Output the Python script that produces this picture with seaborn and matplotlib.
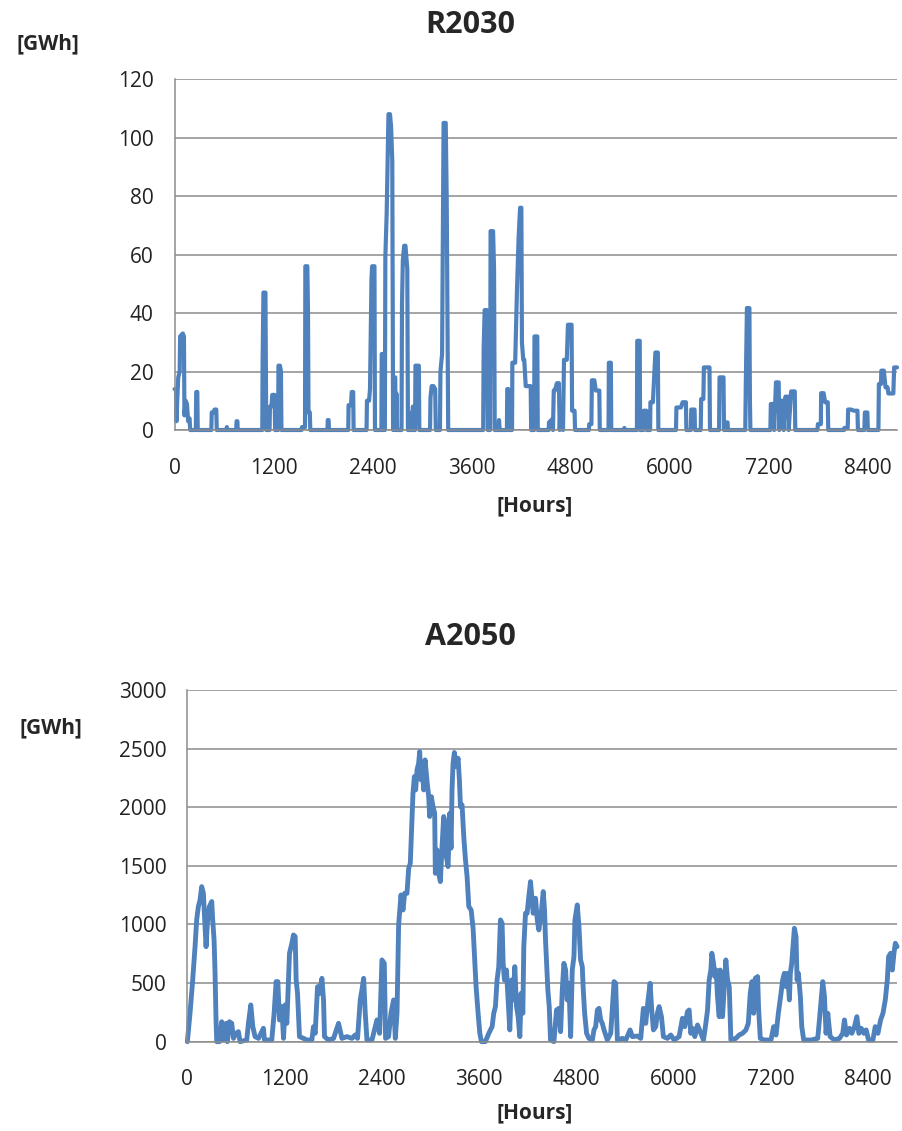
import numpy as np
import pandas as pd
import matplotlib
matplotlib.use("Agg")
import matplotlib.pyplot as plt
import seaborn as sns

# --- data (hour of year, GWh) ---
r2030_hours = [0, 18, 24, 32, 45, 62, 68, 100, 114, 120, 135, 150, 165, 182, 190,
               258, 263, 276, 281,
               446, 451, 470, 486, 506, 512,
               630, 634, 640,
               748, 752, 762, 766,
               1064, 1068, 1078, 1102, 1112,
               1152, 1157, 1175, 1185, 1212, 1220,
               1256, 1260, 1278, 1290, 1296,
               1540, 1545, 1582, 1586, 1610, 1618, 1624, 1640, 1646,
               1854, 1858, 1868, 1872,
               2106, 2110, 2140, 2148, 2166, 2171,
               2328, 2333, 2358, 2370, 2388, 2396, 2424, 2430,
               2508, 2512, 2526, 2531,
               2550, 2556, 2572, 2594, 2612, 2625, 2640, 2650,
               2660, 2676, 2682, 2690, 2698,
               2752, 2758, 2768, 2784, 2800, 2822, 2830,
               2842, 2848, 2856, 2884, 2890, 2897,
               2916, 2921, 2962, 2968,
               3098, 3103, 3118, 3140, 3160, 3168,
               3218, 3224, 3244, 3262, 3288, 3300, 3318,
               3742, 3748, 3760, 3786, 3798,
               3826, 3832, 3862, 3874, 3882,
               3930, 3934, 3942,
               4030, 4034, 4046, 4052,
               4092, 4096, 4130, 4152, 4172, 4190, 4205, 4212, 4228, 4240, 4258, 4318, 4324,
               4360, 4364, 4398, 4404,
               4536, 4540, 4582, 4588, 4598, 4612, 4636, 4660, 4670, 4680, 4700, 4710,
               4722, 4756, 4770, 4814, 4820, 4850, 4856,
               5024, 5028, 5054, 5060, 5090, 5108, 5150, 5156,
               5262, 5266, 5290, 5295,
               5450, 5454, 5460,
               5606, 5610, 5640, 5645,
               5686, 5690, 5720, 5725,
               5766, 5770, 5800, 5830, 5860, 5866,
               6080, 6085, 6140, 6160, 6200, 6206,
               6260, 6265, 6305, 6310,
               6380, 6385, 6412, 6418, 6486, 6492,
               6602, 6608, 6656, 6662, 6680, 6684, 6705, 6710,
               6920, 6926, 6940, 6970, 6976, 6982,
               7224, 7230, 7260, 7270, 7292, 7325, 7332, 7346, 7380, 7386,
               7406, 7440, 7446, 7476, 7520, 7526,
               7796, 7800, 7836, 7840, 7870, 7888, 7920, 7926,
               8118, 8122, 8162, 8167, 8200, 8238, 8280, 8286,
               8364, 8370, 8400, 8406,
               8534, 8540, 8565, 8570, 8600, 8620, 8645, 8655, 8715, 8725, 8760]
r2030_gwh = [14, 14, 3, 10, 18, 20, 32, 33, 32, 5, 10, 9, 3, 4, 0,
             0, 13, 13, 0,
             0, 6, 6, 7, 7, 0,
             0, 1, 0,
             0, 3, 3, 0,
             0, 24, 47, 47, 0,
             0, 8, 8, 12, 12, 0,
             0, 22, 22, 20, 0,
             0, 1, 1, 56, 56, 41, 6, 6, 0,
             0, 3.4, 3.4, 0,
             0, 8.5, 8.5, 13, 13, 0,
             0, 10, 10, 14, 52, 56, 56, 0,
             0, 26, 26, 0,
             0, 59, 74, 108, 108, 104, 92, 0,
             18, 18, 0, 12.5, 0,
             0, 43, 58, 63, 63, 55, 0,
             0, 6, 0, 0, 8, 0,
             0, 22, 22, 0,
             0, 11, 15, 15, 14, 0,
             0, 20, 26, 105, 105, 79, 0,
             0, 28, 41, 41, 0,
             0, 68, 68, 55, 0,
             0, 3.4, 0,
             0, 14, 14, 0,
             0, 23, 23, 48, 66, 76, 76, 30, 24, 24, 15, 15, 0,
             0, 32, 32, 0,
             0, 2.6, 3.8, 0, 13.5, 13.5, 16, 16, 0, 8.3, 8.3, 0,
             24, 24, 36, 36, 6.6, 6.6, 0,
             0, 2, 2, 17, 17, 13.5, 13.5, 0,
             0, 23, 23, 0,
             0, 0.7, 0,
             0, 30.5, 30.5, 0,
             0, 6.6, 6.6, 0,
             0, 9.5, 9.5, 26.5, 26.5, 0,
             0, 7.7, 7.7, 9.5, 9.5, 0,
             0, 7, 7, 0,
             0, 10.6, 10.6, 21.4, 21.4, 0,
             0, 18, 18, 0, 0, 2.6, 2.6, 0,
             0, 15, 41.7, 41.7, 10.6, 0,
             0, 8.9, 8.9, 0, 16.3, 16.3, 0, 10, 10, 0,
             11.4, 11.4, 0, 13.2, 13.2, 0,
             0, 2, 2, 12.6, 12.6, 9.5, 9.5, 0,
             0, 0.7, 0.7, 7, 7, 6.6, 6.6, 0,
             0, 6, 6, 0,
             0, 15.7, 15.7, 20.3, 20.3, 14.6, 14.6, 12.5, 12.5, 21.4, 21.4]

a2050_hours = [0, 33, 66, 95, 115, 136, 157, 177, 198, 210, 231, 247, 272, 301, 313,
               330, 342, 354, 363, 396, 424, 445, 478, 494, 519, 548, 569, 602, 630,
               651, 733, 754, 783, 808, 836, 878, 939, 952, 1042, 1071, 1096, 1117,
               1137, 1166, 1187, 1207, 1228, 1261, 1290, 1310, 1331, 1343, 1360, 1384,
               1434, 1475, 1537, 1557, 1578, 1607, 1632, 1661, 1681, 1693, 1743, 1805,
               1866, 1908, 1970, 2031, 2072, 2101, 2134, 2155, 2176, 2196, 2217, 2279,
               2340, 2373, 2402, 2431, 2447, 2484, 2513, 2546, 2567, 2588, 2608, 2637,
               2662, 2682, 2711, 2732, 2752, 2765, 2785, 2802, 2818, 2835, 2855, 2868,
               2884, 2900, 2917, 2934, 2959, 2979, 2991, 3012, 3032, 3053, 3061, 3082,
               3102, 3123, 3144, 3164, 3185, 3197, 3218, 3239, 3255, 3267, 3280, 3296,
               3321, 3342, 3358, 3371, 3391, 3412, 3433, 3453, 3474, 3503, 3527, 3543,
               3564, 3589, 3610, 3630, 3679, 3721, 3762, 3782, 3803, 3823, 3844, 3865,
               3885, 3898, 3914, 3939, 3960, 3980, 4001, 4021, 4042, 4063, 4083, 4104,
               4120, 4141, 4153, 4174, 4194, 4215, 4236, 4269, 4298, 4319, 4339, 4368,
               4393, 4409, 4421, 4434, 4450, 4467, 4483, 4525, 4557, 4586, 4607, 4628,
               4648, 4669, 4689, 4710, 4731, 4751, 4772, 4784, 4813, 4834, 4854, 4875,
               4887, 4904, 4928, 4957, 4999, 5019, 5040, 5061, 5081, 5102, 5122, 5143,
               5184, 5226, 5267, 5287, 5308, 5370, 5411, 5465, 5493, 5555, 5596, 5629,
               5658, 5687, 5712, 5732, 5753, 5782, 5802, 5823, 5852, 5876, 5926, 5967,
               6008, 6070, 6111, 6140, 6173, 6194, 6214, 6235, 6264, 6297, 6338, 6371,
               6400, 6421, 6441, 6462, 6474, 6495, 6511, 6528, 6544, 6565, 6577, 6606,
               6627, 6647, 6668, 6689, 6709, 6771, 6812, 6853, 6895, 6924, 6948, 6969,
               6990, 7010, 7039, 7051, 7072, 7121, 7204, 7237, 7266, 7295, 7328, 7348,
               7369, 7390, 7410, 7431, 7443, 7460, 7476, 7493, 7513, 7526, 7542, 7567,
               7584, 7608, 7699, 7781, 7802, 7823, 7843, 7864, 7884, 7905, 7934, 7988,
               8049, 8090, 8111, 8136, 8173, 8202, 8235, 8264, 8289, 8318, 8351, 8379,
               8408, 8462, 8491, 8524, 8557, 8586, 8615, 8640, 8656, 8681, 8702, 8722,
               8739, 8760]
a2050_gwh = [0, 242, 526, 810, 1038, 1152, 1209, 1322, 1265, 1095, 810, 1010, 1152, 1195, 1038,
             867, 583, 185, 0, 0, 170, 14, 156, 0, 170, 156, 28, 71, 85,
             0, 14, 156, 313, 128, 43, 28, 114, 14, 14, 242, 512, 512,
             185, 299, 28, 313, 156, 754, 839, 910, 896, 526, 412, 43,
             28, 14, 14, 128, 71, 469, 412, 540, 356, 43, 14, 28,
             156, 28, 43, 28, 57, 28, 356, 441, 540, 242, 14, 14,
             185, 71, 697, 668, 28, 43, 242, 356, 28, 242, 995, 1251,
             1123, 1265, 1265, 1479, 1521, 1749, 2119, 2261, 2147, 2318, 2375, 2474,
             2233, 2346, 2147, 2403, 2218, 2090, 1920, 2090, 2005, 1948, 1436, 1635,
             1436, 1365, 1664, 1920, 1863, 1578, 1493, 1948, 1650, 2147, 2375, 2466,
             2346, 2417, 2233, 2005, 2019, 1749, 1550, 1408, 1152, 1123, 967, 754,
             469, 242, 71, 0, 0, 71, 128, 242, 299, 526, 640, 1038,
             1010, 668, 526, 611, 356, 100, 526, 356, 640, 299, 213, 43,
             412, 242, 810, 1095, 1095, 1237, 1365, 1095, 1223, 1038, 953, 1095,
             1280, 1123, 867, 668, 441, 299, 14, 0, 270, 284, 85, 441,
             668, 611, 356, 498, 43, 611, 725, 1038, 1166, 981, 697, 640,
             441, 242, 71, 28, 14, 100, 128, 270, 284, 185, 156, 100,
             14, 71, 512, 498, 14, 28, 14, 100, 43, 48, 28, 284,
             156, 356, 498, 270, 100, 128, 242, 299, 213, 43, 28, 57,
             14, 43, 199, 128, 256, 270, 71, 114, 43, 142, 71, 14,
             156, 270, 526, 611, 754, 668, 555, 611, 384, 213, 611, 213,
             469, 697, 526, 469, 14, 28, 57, 71, 100, 156, 412, 512,
             242, 540, 555, 284, 28, 14, 14, 128, 57, 242, 412, 526,
             583, 469, 583, 356, 583, 668, 810, 967, 896, 526, 583, 384,
             128, 14, 14, 28, 185, 356, 512, 384, 71, 242, 43, 14,
             28, 71, 185, 57, 114, 71, 128, 213, 71, 114, 71, 100,
             14, 14, 128, 71, 185, 242, 356, 526, 725, 754, 611, 754,
             839, 810]

df_r2030 = pd.DataFrame({'hour': r2030_hours, 'gwh': r2030_gwh})
df_a2050 = pd.DataFrame({'hour': a2050_hours, 'gwh': a2050_gwh})

sns.set_style("white")
plt.rcParams['font.family'] = ['Open Sans', 'DejaVu Sans']

LINE = '#4F81BD'
GRID = '#8c8c8c'

fig = plt.figure(figsize=(9.02, 11.31), dpi=100)
ax1 = fig.add_axes([0.1935, 0.6198, 0.801, 0.3103])
ax2 = fig.add_axes([0.2077, 0.0790, 0.7868, 0.311])


def style_axis(ax, ymax, ystep):
    ax.set_xlim(0, 8760)
    ax.set_ylim(0, ymax)
    ax.set_xticks(range(0, 8401, 1200))
    ax.set_yticks(np.arange(0, ymax + 1, ystep))
    ax.grid(axis='y', color=GRID, linewidth=1.1)
    ax.grid(axis='x', visible=False)
    ax.set_axisbelow(True)
    for s in ['top', 'right']:
        ax.spines[s].set_visible(False)
    for s in ['left', 'bottom']:
        ax.spines[s].set_color(GRID)
        ax.spines[s].set_linewidth(1.1)
    ax.tick_params(axis='x', direction='out', length=6, width=1, color=GRID,
                   labelsize=15, pad=14, labelcolor='#222222')
    ax.tick_params(axis='y', direction='inout', length=10, width=1, color=GRID,
                   labelsize=15, pad=10, labelcolor='#222222')
    ax.set_xlabel('')
    ax.set_ylabel('')


sns.lineplot(data=df_r2030, x='hour', y='gwh', ax=ax1, color=LINE,
             linewidth=3.0, estimator=None, clip_on=False)
style_axis(ax1, 120, 20)

sns.lineplot(data=df_a2050, x='hour', y='gwh', ax=ax2, color=LINE,
             linewidth=3.5, estimator=None, clip_on=False)
style_axis(ax2, 3000, 500)

# titles and unit labels
fig.text(470 / 902, 1 - 25 / 1131, 'R2030', ha='center', va='center',
         fontsize=22, fontweight='bold')
fig.text(470 / 902, 1 - 637 / 1131, 'A2050', ha='center', va='center',
         fontsize=22, fontweight='bold')
fig.text(48 / 902, 1 - 44 / 1131, '[GWh]', ha='center', va='center',
         fontsize=15, fontweight='bold')
fig.text(51 / 902, 1 - 728 / 1131, '[GWh]', ha='center', va='center',
         fontsize=15, fontweight='bold')
fig.text(535 / 902, 1 - 506 / 1131, '[Hours]', ha='center', va='center',
         fontsize=15, fontweight='bold')
fig.text(535 / 902, 1 - 1113 / 1131, '[Hours]', ha='center', va='center',
         fontsize=15, fontweight='bold')

fig.savefig('out.png', dpi=100)
